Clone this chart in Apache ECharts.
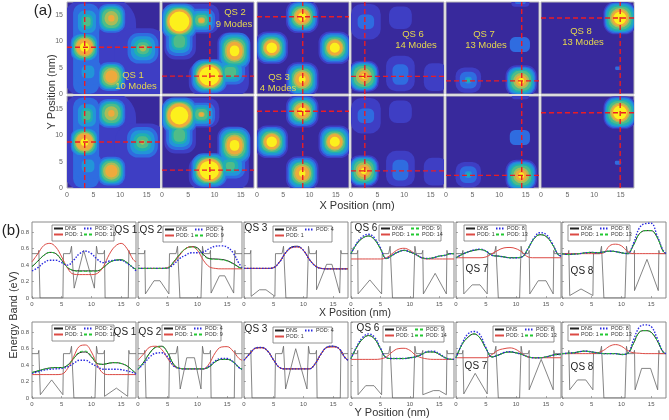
<!DOCTYPE html>
<html><head><meta charset="utf-8">
<style>html,body{margin:0;padding:0;background:#fff}#c{width:669px;height:420px;filter:blur(.4px)}</style>
<script src="https://cdn.jsdelivr.net/npm/echarts@6/dist/echarts.min.js"></script>
</head><body><div id="c"></div>
<script>
// ---------- tick labels / categories ----------
const qsNames = ['QS 1','QS 2','QS 3','QS 6','QS 7','QS 8'];
const modeNames = ['10 Modes','9 Modes','4 Modes','14 Modes','13 Modes','13 Modes'];
const podA = ['POD: 2','POD: 4','POD: 4','POD: 9','POD: 8','POD: 8'];
const podB = ['POD: 10','POD: 9',null,'POD: 14','POD: 13','POD: 13'];
const xNm = [0,1,2,3,4,5,6,7,8,9,10,11,12,13,14,15,16,17,17.5];
const levelColors = ['#38299c','#3e3ec4','#2f6ce0','#2295d8','#20b0b0','#50bc88','#a8bc58','#eeaa3c','#fcf01c'];

// ---------- (a) contour regions: [x nm, y nm, height/width, first level, half width of each level in nm] ----------
const mapQs1Top = [[6,8.75,1.36,1,7],[14,5,1.5,1,5],[3.6,8.6,3.5,2,2.45],
 [3.3,8.9,1.05,2,2.6,2.4,2.2,2,1.8,1.55,.85],[8.35,14.4,1.05,2,2.6,2.3,2.05,1.75,1.3,.6],[8.35,3.3,1.05,2,2.6,2.3,2.1,1.85,1.55,1.15],
 [3.75,13.75,1.25,2,2.4,1.7,1.1,.7],[3.95,4.2,1,2,2.5,1.2],[14.3,8.7,1,2,2.9,2.3,1.7,1.15,.6]];
const mapQs1Bot = [[6,8.75,1.36,1,7],[14,5,1.45,1,5],[3.6,8.6,3.5,2,2.45],
 [3.3,8.75,1.05,2,2.6,2.4,2.2,2,1.8,1.6,.7],[8.35,14.2,1.05,2,2.6,2.3,2.05,1.75,1.3,.6],[8.35,3.2,1.05,2,2.6,2.3,2.1,1.85,1.55,1.15],
 [3.75,13.8,1.25,2,2.4,1.7,1.1,.7],[3.95,4.2,1,2,2.5,1.2],[14.2,8.7,1,2,2.9,2.3,1.7,1.15,.45]];
const mapQs2Top = [[5.6,14.3,.53,1,5.3],[3.45,11.8,1.75,1,3],[10.8,2.9,.55,1,5.7],[13.5,6,1.9,1,3],
 [3.3,13.8,1,2,3.4,3.1,2.8,2.6,2.45,2.25,1.9],[7.5,14,.85,2,2.6,2.1,1.6,1.2,.7,.5],[3.3,10,1.1,2,2.5,2,1.5,1.1],
 [9,3.4,.95,2,3.4,3.1,2.8,2.6,2.45,2.25,1.9],[13.8,8.2,1.15,2,3,2.7,2.4,2.1,1.8,1.5,.9],[13,4.2,.85,2,2.8,2.2,1.6,1.1]];
const mapQs2Bot = [[5.6,14.3,.53,1,5.3],[3.45,11.8,1.75,1,3],[10.8,2.9,.55,1,5.7],[13.5,6,1.9,1,3],
 [3.3,13.8,1,2,3.4,3.1,2.8,2.6,2.45,2.25,1.7],[7.5,14,.85,2,2.6,2.1,1.6,1.2,.6,.45],[3.3,10,1.1,2,2.5,2,1.5,1.1],
 [9,3.4,.95,2,3.4,3.1,2.8,2.6,2.45,2.25,1.85],[13.8,8.1,1.15,2,3,2.7,2.4,2.1,1.8,1.5,.9],[13,4.2,.85,2,2.8,2.2,1.5,.85]];
const mapQs3Top = [[8.6,14.7,1,1,3.1,2.8,2.5,2.2,1.95,1.7,1.4,.8],[2.8,8.8,1,1,3.1,2.8,2.5,2.2,1.95,1.7,1.45,1],
 [14.8,8.8,1,1,3.1,2.8,2.5,2.2,1.95,1.7,1.45,.95],[8.6,2.8,1.05,1,3.1,2.8,2.5,2.2,1.95,1.7,1.35,.65]];
const mapQs3Bot = [[8.6,14.6,1,1,3.1,2.8,2.5,2.2,1.95,1.7,1.4,.8],[2.8,8.8,1,1,3.1,2.8,2.5,2.2,1.95,1.7,1.45,1],
 [14.8,8.8,1,1,3.1,2.8,2.5,2.2,1.95,1.7,1.45,.95],[8.6,2.8,1.05,1,3.1,2.8,2.5,2.2,1.95,1.7,1.35,.6]];
const mapQs6Top = [[2.4,3.35,1.05,1,2.85,2.6,2.4,2.2,1.9,1.5,1,.45],[2.8,13.75,1.2,1,2.8],[2.8,13.75,.9,2,1.55],
 [9.3,3.9,1.25,1,2.7],[9.3,3.7,1.3,2,1.5],[9.3,14.5,1,1,2.15],[15.9,3.2,1.2,1,2.2]];
const mapQs6Bot = [[2.4,3.25,1.05,1,2.85,2.6,2.4,2.2,1.9,1.55,1.15,.55],[2.8,13.75,1.2,1,2.8],[2.8,13.75,.9,2,1.55],
 [9.3,3.7,1.25,1,2.7],[9.3,3.4,1.3,2,1.5],[9.3,14.5,1,1,2.15],[15.9,3.1,1.2,1,2.2]];
const mapQs7Top = [[14.15,2.5,1,1,2.95,2.7,2.5,2.2,1.9,1.5,1.1,.55],[4.2,2.65,1,1,2.4],[4.2,2.65,1,2,1.6,.65,.35],
 [13.9,9.4,.75,2,1.9],[14,17.6,.6,1,1.7],[14,17.6,.5,2,1]];
const mapQs7Bot = [[14.15,2.4,1,1,2.95,2.7,2.5,2.2,1.9,1.5,1.1,.55],[4.2,2.55,1,1,2.4],[4.2,2.55,1,2,1.6,.65,.35],
 [13.9,9.6,.75,2,1.9],[14,17.7,.5,1,1.6]];
const mapQs8Top = [[14.85,14.45,1,1,3.1,2.9,2.7,2.5,2.2,1.9,1.6,1.2],[14.5,4.9,.6,2,.55]];
const mapQs8Bot = [[14.85,14.35,1,1,3.1,2.9,2.7,2.5,2.2,1.9,1.65,1.3],[14.5,4.8,.6,2,.6]];

// red dashed cross position in each map, [x nm, y nm]
const crossTop = [[3.33,8.9],[9.1,3.4],[8.7,14.7],[2.6,3.35],[14.25,2.5],[14.9,14.45]];
const crossBot = [[3.33,8.75],[9.1,3.4],[8.7,14.6],[2.6,3.25],[14.25,2.4],[14.9,14.3]];

// ---------- (b) energy band curves, one value per xNm ----------
const q1tDns=[.38,.45,.52,.555,.54,.46,.37,.335,.33,.33,.33,.33,.37,.43,.46,.465,.43,.37,.35];
const q1tP1=[.44,.54,.64,.665,.62,.5,.36,.29,.285,.285,.285,.3,.38,.53,.63,.665,.6,.47,.44];
const q1tPa=[.33,.37,.43,.46,.46,.43,.4,.46,.54,.57,.54,.47,.43,.45,.46,.46,.42,.37,.33];
const q1tPb=[.38,.45,.52,.555,.54,.46,.37,.335,.325,.325,.325,.33,.37,.43,.46,.465,.43,.37,.35];
const q2tDns=[.36,.36,.36,.36,.36,.365,.44,.53,.6,.625,.61,.53,.48,.475,.47,.455,.42,.375,.36];
const q2tP1=[.36,.36,.36,.36,.36,.37,.43,.52,.6,.625,.58,.46,.38,.36,.355,.355,.355,.355,.355];
const q2tPa=[.36,.36,.36,.36,.36,.365,.41,.48,.52,.55,.55,.56,.6,.63,.635,.62,.55,.42,.37];
const q2tPb=[.36,.36,.36,.36,.36,.365,.44,.53,.6,.62,.6,.52,.475,.47,.465,.45,.415,.37,.36];
const q3tDns=[.36,.36,.36,.36,.36,.37,.44,.55,.62,.63,.58,.47,.39,.36,.355,.355,.355,.355,.355];
const q3tP1=[.36,.36,.36,.36,.36,.37,.44,.55,.61,.62,.58,.47,.39,.36,.355,.355,.355,.355,.355];
const q3tPa=[.36,.36,.36,.36,.36,.37,.44,.55,.615,.625,.58,.47,.39,.36,.355,.355,.355,.355,.355];
const q6tDns=[.54,.66,.73,.755,.71,.6,.48,.52,.56,.58,.56,.53,.49,.48,.49,.51,.52,.54,.54];
const q6tP1=[.475,.475,.475,.475,.475,.475,.49,.54,.59,.605,.58,.53,.49,.475,.475,.475,.475,.475,.475];
const q6tPa=[.54,.67,.75,.775,.73,.61,.48,.52,.56,.58,.56,.53,.49,.48,.49,.51,.52,.54,.54];
const q6tPb=[.54,.66,.73,.755,.71,.6,.48,.52,.56,.58,.56,.53,.49,.48,.49,.51,.52,.54,.54];
const q7tDns=[.49,.53,.56,.58,.59,.57,.52,.51,.5,.49,.49,.5,.6,.72,.77,.75,.66,.53,.51];
const q7tP1=[.49,.49,.49,.49,.49,.5,.54,.58,.61,.615,.6,.56,.5,.49,.49,.49,.49,.49,.49];
const q7tPa=[.49,.53,.56,.585,.595,.57,.52,.51,.5,.49,.49,.5,.6,.73,.795,.775,.67,.53,.51];
const q7tPb=[.49,.53,.56,.58,.59,.57,.52,.51,.5,.49,.49,.5,.6,.72,.77,.75,.66,.53,.51];
const q8tDns=[.54,.53,.535,.54,.55,.555,.55,.56,.57,.565,.55,.54,.64,.78,.82,.82,.74,.57,.54];
const q8tP1=[.54,.54,.54,.54,.54,.54,.54,.55,.635,.655,.635,.57,.54,.54,.54,.54,.54,.54,.54];
const q8tPa=[.54,.53,.535,.54,.55,.555,.55,.56,.57,.565,.55,.54,.66,.85,.905,.91,.76,.58,.54];
const q8tPb=[.54,.53,.535,.54,.55,.555,.55,.56,.57,.565,.55,.54,.64,.78,.82,.82,.74,.57,.54];
const q1bDns=[.31,.33,.35,.365,.37,.37,.4,.48,.55,.56,.5,.42,.41,.425,.43,.42,.39,.33,.3];
const q1bP1=[.285,.285,.285,.285,.285,.29,.36,.5,.63,.645,.56,.4,.3,.285,.285,.285,.285,.285,.285];
const q1bPa=[.3,.32,.34,.35,.355,.36,.38,.42,.46,.46,.42,.38,.35,.35,.35,.345,.33,.31,.29];
const q1bPb=[.31,.33,.35,.365,.37,.37,.4,.48,.56,.57,.51,.42,.41,.425,.43,.42,.39,.33,.3];
const q2bDns=[.35,.44,.55,.62,.63,.55,.41,.36,.355,.355,.355,.355,.38,.44,.47,.47,.44,.37,.35];
const q2bP1=[.46,.54,.62,.63,.59,.48,.39,.36,.355,.355,.355,.355,.42,.55,.62,.625,.57,.48,.46];
const q2bPa=[.35,.42,.5,.545,.55,.5,.39,.36,.355,.355,.355,.355,.39,.45,.48,.48,.44,.37,.35];
const q2bPb=[.35,.44,.55,.615,.625,.55,.41,.36,.355,.355,.355,.355,.38,.44,.47,.47,.44,.37,.35];
const q3bDns=[.46,.54,.61,.615,.57,.46,.37,.355,.355,.355,.355,.355,.42,.54,.62,.63,.6,.49,.46];
const q3bP1=[.46,.54,.605,.61,.57,.46,.37,.355,.355,.355,.355,.355,.42,.54,.615,.62,.6,.49,.46];
const q3bPa=[.46,.54,.61,.615,.57,.46,.37,.355,.355,.355,.355,.355,.42,.54,.62,.63,.6,.49,.46];
const q6bDns=[.48,.62,.72,.76,.72,.6,.49,.48,.48,.48,.49,.5,.53,.56,.56,.53,.49,.47,.47];
const q6bP1=[.47,.47,.47,.47,.47,.475,.5,.56,.6,.605,.58,.52,.49,.475,.47,.47,.47,.47,.47];
const q6bPa=[.48,.63,.74,.78,.74,.61,.49,.48,.48,.48,.49,.5,.53,.565,.57,.54,.49,.47,.47];
const q6bPb=[.48,.62,.72,.76,.72,.6,.49,.48,.48,.48,.49,.5,.53,.56,.56,.53,.49,.47,.47];
const q7bDns=[.49,.65,.74,.78,.73,.6,.5,.52,.55,.56,.55,.53,.5,.49,.49,.5,.52,.53,.53];
const q7bP1=[.49,.49,.49,.49,.49,.49,.53,.58,.6,.61,.59,.54,.5,.49,.49,.49,.49,.49,.49];
const q7bPa=[.49,.66,.78,.81,.77,.61,.5,.52,.555,.565,.55,.53,.5,.49,.49,.5,.52,.53,.53];
const q7bPb=[.49,.65,.74,.78,.73,.6,.5,.52,.55,.56,.55,.53,.5,.49,.49,.5,.52,.53,.53];
const q8bDns=[.54,.545,.55,.565,.57,.56,.55,.54,.54,.54,.53,.54,.66,.8,.82,.8,.7,.56,.54];
const q8bP1=[.54,.54,.54,.54,.54,.54,.55,.58,.63,.65,.63,.58,.55,.545,.54,.54,.54,.54,.54];
const q8bPa=[.54,.545,.55,.565,.57,.56,.55,.54,.54,.54,.53,.54,.7,.86,.89,.87,.73,.56,.54];
const q8bPb=[.54,.545,.55,.565,.57,.56,.55,.54,.54,.54,.53,.54,.66,.8,.82,.8,.7,.56,.54];

// well profiles of the DNS potential outline, [x nm, energy eV]
const flat1=[[1.35,0],[5.2,0]], flat2=[[7.05,0],[10.6,0]], flat3=[[12.3,0],[16.2,0]];
const wellsTop = [
 [flat1,[[7.1,.12],[8.7,.58],[10.5,.12]],flat3],
 [[[1.25,.05],[2.7,.21],[3.7,.21],[5.2,.05]],flat2,[[12.3,.06],[13.7,.27],[14.6,.27],[16.1,.06]]],
 [[[1.2,.02],[2.6,.1],[3.7,.1],[5.2,.02]],flat2,[[12.2,.1],[13.9,.41],[14.8,.41],[16.1,.06]]],
 [[[1.2,.05],[3.2,.22],[5.2,.05]],flat2,[[12.3,.05],[14.3,.3],[16.2,.05]]],
 [[[1.3,.05],[2.7,.16],[4,.16],[5.2,.05]],flat2,[[12.3,.05],[13.7,.21],[15,.21],[16.2,.05]]],
 [[[1.3,.03],[3.2,.11],[5.2,.03]],flat2,[[12.2,.09],[14.3,.47],[16.2,.09]]]];
const wellsBot = [
 [[[1.4,.04],[3.3,.22],[5.2,.04]],flat2,[[12.2,.02],[14.2,.12],[16.1,.02]]],
 [flat1,[[7.1,.11],[8.2,.49],[9.5,.49],[10.6,.11]],flat3],
 [flat1,[[7,.11],[8.7,.6],[10.6,.11]],flat3],
 [[[1.2,.04],[2.5,.15],[3.9,.15],[5.2,.04]],flat2,[[12.2,.04],[14,.09],[15,.09],[16.2,.04]]],
 [[[1.3,.05],[3.2,.3],[5.2,.05]],flat2,[[12.2,.1],[14.2,.47],[16.2,.1]]],
 [[[1.3,.1],[2.6,.22],[4,.22],[5.2,.1]],flat2,[[12.3,.1],[13.4,.36],[14.9,.36],[16.1,.1]]]];

const mapsTop=[mapQs1Top,mapQs2Top,mapQs3Top,mapQs6Top,mapQs7Top,mapQs8Top];
const mapsBot=[mapQs1Bot,mapQs2Bot,mapQs3Bot,mapQs6Bot,mapQs7Bot,mapQs8Bot];
const curvesTop=[[q1tDns,q1tP1,q1tPa,q1tPb],[q2tDns,q2tP1,q2tPa,q2tPb],[q3tDns,q3tP1,q3tPa,null],[q6tDns,q6tP1,q6tPa,q6tPb],[q7tDns,q7tP1,q7tPa,q7tPb],[q8tDns,q8tP1,q8tPa,q8tPb]];
const curvesBot=[[q1bDns,q1bP1,q1bPa,q1bPb],[q2bDns,q2bP1,q2bPa,q2bPb],[q3bDns,q3bP1,q3bPa,null],[q6bDns,q6bP1,q6bPa,q6bPb],[q7bDns,q7bP1,q7bPa,q7bPb],[q8bDns,q8bP1,q8bPa,q8bPb]];

// ---------- layout ----------
const FONT='"Liberation Sans",Arial,sans-serif';
const heatCols=[[67,93],[162,92],[257,92],[351,93],[446,93],[541,93]], heatRows=[[2,92],[96,92]];
const lineCols=[[32,104],[138,104],[244,104],[351,103],[456,105],[562,104]], lineRows=[[222,76],[322,76]];
const legendTop=[[52,225,62],[163,226,59],[273,226,59],[379,225,62],[464,225,62],[568,225,62]];
const legendBot=[[52,325,62],[162,325,59],[273,327,59],[383,326,61],[493,326,61],[568,325,62]];
const qsPosTop=[[126,230],[151,230],[256,228],[366,228],[477,269],[582,271]];
const qsPosBot=[[125,332],[150,332],[256,329],[368,328],[476,366],[582,367]];
const modePos=[[[133,75],[136,86]],[[235,12],[234,24]],[[279,77],[278,88]],[[413,34],[416,45]],[[484,34],[486,45]],[[581,31],[583,42]]];

const grids=[],xAxes=[],yAxes=[],series=[],legends=[],graphics=[];
function addText(text,x,y,size,fill,rot){
  graphics.push({type:'text',z:30,x,y,rotation:rot||0,silent:true,
    style:{text,x:0,y:0,fill,font:size+'px '+FONT,textAlign:'center',textVerticalAlign:'middle'}});
}
function roundness(l){return l<=3?.7:l<=5?.82:1;}
function toRegions(peaks){
  const out=[];
  peaks.forEach(p=>{for(let i=4;i<p.length;i++) out.push([p[3]+i-4,p[0],p[1],p[i],p[i]*p[2]]);});
  return out.sort((a,b)=>a[0]-b[0]);
}
function renderRegion(params,api){
  const lv=api.value(0),x=api.value(1),y=api.value(2),rx=api.value(3),ry=api.value(4);
  const p=api.coord([x-rx,y+ry]),s=api.size([2*rx,2*ry]);
  return {type:'rect',shape:{x:p[0],y:p[1],width:s[0],height:s[1],r:roundness(lv)*Math.min(s[0],s[1])/2},
    style:{fill:levelColors[lv]}};
}
// heat maps
[[mapsTop,crossTop],[mapsBot,crossBot]].forEach(([maps,cross],r)=>{
  maps.forEach((m,c)=>{
    const g=grids.length;
    grids.push({left:heatCols[c][0],width:heatCols[c][1],top:heatRows[r][0],height:heatRows[r][1],show:true,
      backgroundColor:levelColors[0],borderColor:'#b8b8b8',borderWidth:1,containLabel:false});
    xAxes.push({gridIndex:g,type:'value',min:0,max:17.5,interval:5,axisLine:{show:false},axisTick:{show:false},splitLine:{show:false},
      axisLabel:{show:r===1,showMaxLabel:false,fontSize:7,color:'#666',fontFamily:FONT,margin:4}});
    yAxes.push({gridIndex:g,type:'value',min:0,max:17.5,interval:5,axisLine:{show:false},axisTick:{show:false},splitLine:{show:false},
      axisLabel:{show:c===0,showMaxLabel:false,fontSize:7,color:'#666',fontFamily:FONT,margin:4}});
    series.push({type:'custom',xAxisIndex:g,yAxisIndex:g,clip:true,silent:true,renderItem:renderRegion,
      encode:{x:1,y:2},data:toRegions(m),z:2});
    const d={type:[5,3],color:'#ea1c24',width:1.4};
    series.push({type:'line',name:'cross',xAxisIndex:g,yAxisIndex:g,symbol:'none',silent:true,z:3,lineStyle:d,data:[[cross[c][0],0],[cross[c][0],17.5]]});
    series.push({type:'line',name:'cross',xAxisIndex:g,yAxisIndex:g,symbol:'none',silent:true,z:3,lineStyle:d,data:[[0,cross[c][1]],[17.5,cross[c][1]]]});
  });
});
modePos.forEach((p,c)=>{addText(qsNames[c],p[0][0],p[0][1],9.5,'#e6d84e');addText(modeNames[c],p[1][0],p[1][1],9.5,'#e6d84e');});

// energy-band panels
function wellPath(w){
  return [[0,.54],[1.05,.54],[1.15,.58],...w[0],[5.3,.54],[6.4,.54],[6.65,.63],...w[1],[10.85,.63],[11.05,.54],[12.05,.54],[12.2,.58],...w[2],[16.3,.58],[16.4,.54],[17.5,.54]];
}
const pair=(ys)=>ys.map((v,i)=>[xNm[i],v]);
[[curvesTop,wellsTop,legendTop,qsPosTop],[curvesBot,wellsBot,legendBot,qsPosBot]].forEach(([curves,wells,lg,qp],r)=>{
  curves.forEach((cv,c)=>{
    const g=grids.length;
    grids.push({left:lineCols[c][0],width:lineCols[c][1],top:lineRows[r][0],height:lineRows[r][1],show:true,borderColor:'#8a8a8a',borderWidth:1});
    xAxes.push({gridIndex:g,type:'value',min:0,max:17.5,interval:5,axisLine:{show:false},splitLine:{show:false},
      axisTick:{inside:true,length:2,lineStyle:{color:'#777',width:.6}},
      axisLabel:{showMaxLabel:false,fontSize:6,color:'#555',fontFamily:FONT,margin:3}});
    yAxes.push({gridIndex:g,type:'value',min:0,max:.925,interval:.2,axisLine:{show:false},splitLine:{show:false},
      axisTick:{inside:true,length:2,lineStyle:{color:'#777',width:.6}},
      axisLabel:{show:c===0,showMaxLabel:false,fontSize:6,color:'#555',fontFamily:FONT,margin:3,formatter:v=>v===0?'0':v.toFixed(1)}});
    series.push({type:'line',name:'DNS outline',xAxisIndex:g,yAxisIndex:g,symbol:'none',silent:true,z:2,clip:true,
      lineStyle:{color:'#666',width:.8},data:wellPath(wells[c])});
    const base={type:'line',xAxisIndex:g,yAxisIndex:g,symbol:'none',silent:true,smooth:.4,clip:true};
    series.push({...base,name:'DNS',z:3,itemStyle:{color:'#222'},lineStyle:{color:'#222',width:1},data:pair(cv[0])});
    series.push({...base,name:'POD: 1',z:4,itemStyle:{color:'#dc4a44'},lineStyle:{color:'#dc4a44',width:1},data:pair(cv[1])});
    series.push({...base,name:podA[c],z:5,itemStyle:{color:'#2a2ae0'},lineStyle:{color:'#2a2ae0',width:1.4,type:[1.5,1.5]},data:pair(cv[2])});
    if(cv[3]) series.push({...base,name:podB[c],z:6,itemStyle:{color:'#22c832'},lineStyle:{color:'#22c832',width:1,type:[3,2]},data:pair(cv[3])});
    const [bx,by,bw]=lg[c];
    graphics.push({type:'rect',z:10,silent:true,shape:{x:bx,y:by,width:bw,height:16},style:{fill:'#fff',stroke:'#777',lineWidth:.8}});
    const lgBase={orient:'vertical',top:by+1,itemWidth:9,itemHeight:6,itemGap:1,padding:0,z:20,selectedMode:false,
      itemStyle:{color:'rgba(0,0,0,0)',borderColor:'rgba(0,0,0,0)',borderWidth:0,opacity:0},
      textStyle:{fontSize:5.4,color:'#333',fontFamily:FONT,padding:[0,0,0,-3]}};
    legends.push({...lgBase,left:bx+1,data:['DNS','POD: 1']});
    legends.push({...lgBase,left:bx+31,data:cv[3]?[podA[c],podB[c]]:[podA[c]]});
    addText(qsNames[c],qp[c][0],qp[c][1],10,'#222');
  });
});

// outer labels
addText('(a)',43,11,15,'#222');
addText('(b)',11,231,15,'#222');
addText('Y Position (nm)',52,92,11,'#333',Math.PI/2);
addText('X Position (nm)',357,206,11,'#333');
addText('X Position (nm)',355,313,10.5,'#333');
addText('Energy Band (eV)',14,315,11,'#333',Math.PI/2);
addText('Y Position (nm)',392,413,11,'#333');

const chart=echarts.init(document.getElementById('c'),null,{renderer:'canvas'});
chart.setOption({animation:false,backgroundColor:'#fff',grid:grids,xAxis:xAxes,yAxis:yAxes,series,legend:legends,graphic:graphics,tooltip:{show:false}});
</script></body></html>
